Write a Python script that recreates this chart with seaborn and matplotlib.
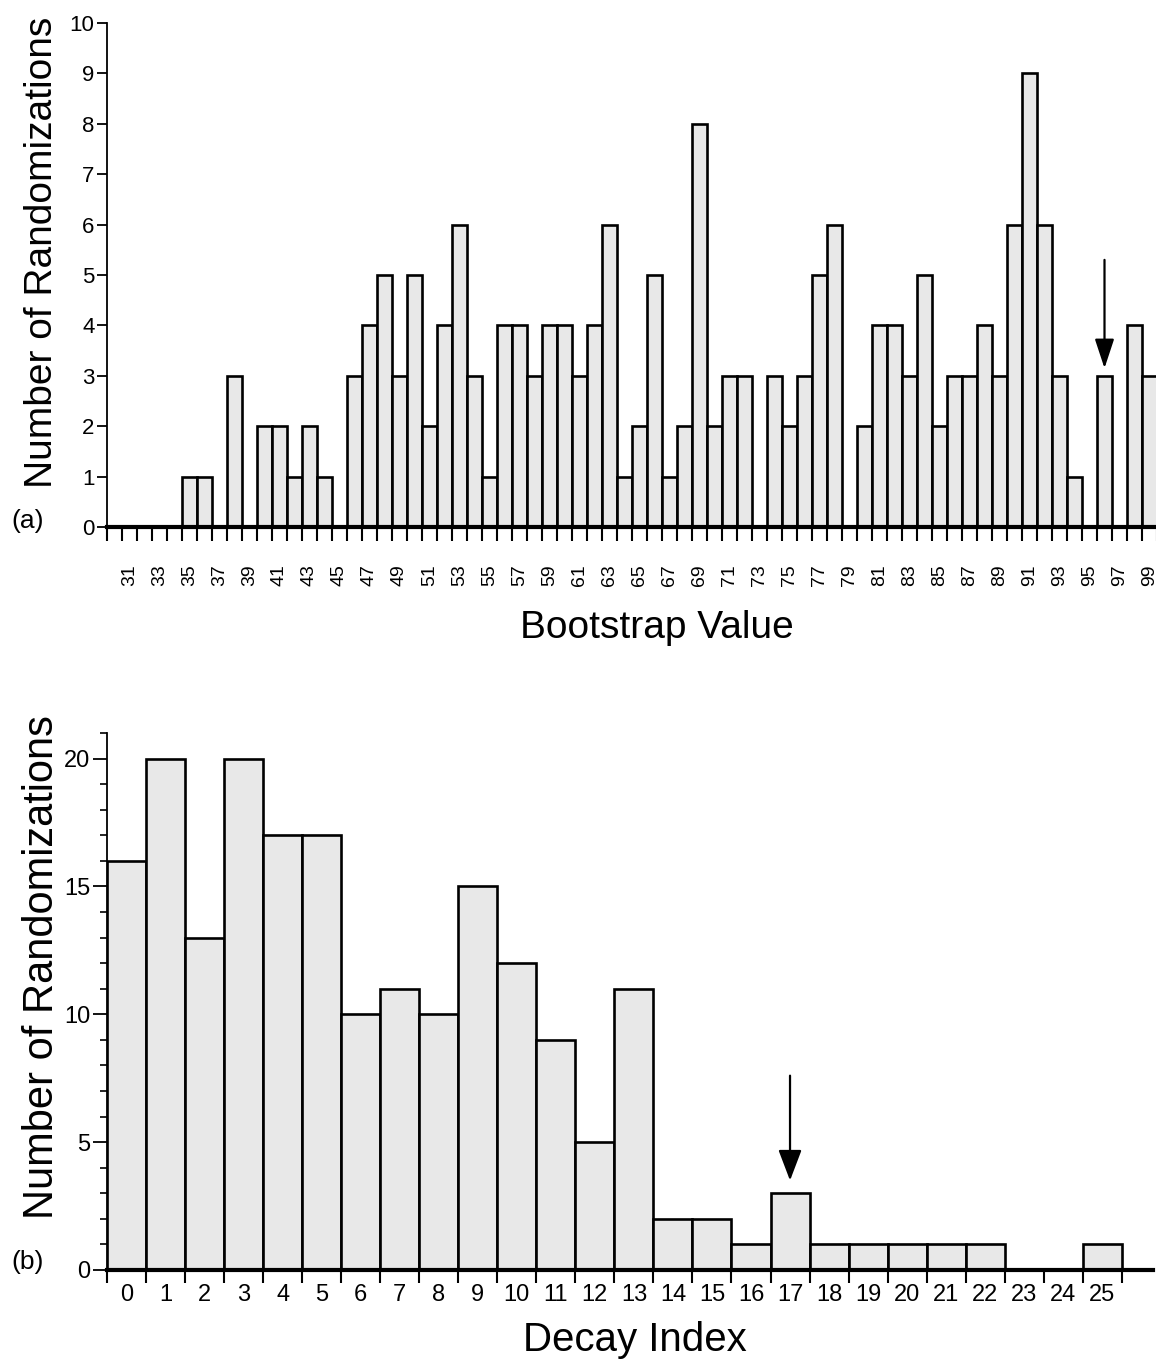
import numpy as np
import pandas as pd
import matplotlib
matplotlib.use("Agg")
import matplotlib.pyplot as plt
from matplotlib.ticker import FixedLocator, NullFormatter
import seaborn as sns

# ---------------- data ----------------
boot_values = list(range(30, 100))
boot_counts = [0, 0, 0, 0, 0, 1, 1, 0, 3, 0,
               2, 2, 1, 2, 1, 0, 3, 4, 5, 3,
               5, 2, 4, 6, 3, 1, 4, 4, 3, 4,
               4, 3, 4, 6, 1, 2, 5, 1, 2, 8,
               2, 3, 3, 0, 3, 2, 3, 5, 6, 0,
               2, 4, 4, 3, 5, 2, 3, 3, 4, 3,
               6, 9, 6, 3, 1, 0, 3, 0, 4, 3]
boot_tick_labels = list(range(31, 100, 2))
boot_arrow_at = 96

decay_values = list(range(0, 26))
decay_counts = [16, 20, 13, 20, 17, 17, 10, 11, 10, 15, 12, 9, 5, 11,
                2, 2, 1, 3, 1, 1, 1, 1, 1, 0, 0, 1]
decay_arrow_at = 17

# ---------------- style ----------------
sns.set_style("ticks")
plt.rcParams["font.family"] = ["Liberation Sans", "DejaVu Sans"]
for key in ["text.color", "axes.labelcolor", "xtick.color", "ytick.color", "axes.edgecolor"]:
    plt.rcParams[key] = "black"
FILL = "#e8e8e8"

W, H = 1156, 1361
fig = plt.figure(figsize=(W / 100, H / 100), dpi=100)

def px_axes(left, top, right, bottom):
    return fig.add_axes([left / W, 1 - bottom / H, (right - left) / W, (bottom - top) / H])

# ---------------- panel (a) ----------------
ax1 = px_axes(107, 23, 1157, 527)
df1 = pd.DataFrame({"value": boot_values, "count": boot_counts})
sns.barplot(data=df1, x="value", y="count", native_scale=True, width=1.0,
            color=FILL, saturation=1, edgecolor="black", linewidth=1.9, ax=ax1)
ax1.set_xlim(29.5, 99.5)
ax1.set_ylim(0, 10)
sns.despine(ax=ax1)
ax1.spines["bottom"].set_linewidth(3.0)
ax1.spines["left"].set_linewidth(1.3)
ax1.set_yticks(range(0, 11))
ax1.tick_params(axis="y", direction="out", length=7, width=1.3, pad=2, labelsize=16)
ax1.xaxis.set_major_locator(FixedLocator(boot_tick_labels))
ax1.set_xticklabels([str(v) for v in boot_tick_labels], rotation=90)
ax1.tick_params(axis="x", which="major", length=0, pad=27, labelsize=14)
ax1.xaxis.set_minor_locator(FixedLocator(np.arange(29.5, 100.5, 1.0)))
ax1.xaxis.set_minor_formatter(NullFormatter())
ax1.tick_params(axis="x", which="minor", direction="out", length=10, width=1.5)
ax1.set_xlabel("Bootstrap Value", fontsize=28)
ax1.xaxis.set_label_coords(0.524, -0.2)
ax1.xaxis.label.set_verticalalignment("center")
ax1.set_ylabel("Number of Randomizations", fontsize=28)
ax1.yaxis.set_label_coords(-0.062, 0.545)
ax1.yaxis.label.set_verticalalignment("center")
ax1.annotate("", xy=(boot_arrow_at, 3.15), xytext=(boot_arrow_at, 5.3),
             arrowprops=dict(arrowstyle="-|>,head_length=1.0,head_width=0.33",
                             mutation_scale=18, color="black", lw=1.6,
                             shrinkA=0, shrinkB=0))
fig.text(28 / W, 1 - 521 / H, "(a)", fontsize=19, ha="center", va="center")

# ---------------- panel (b) ----------------
ax2 = px_axes(107, 733, 1153, 1270)
df2 = pd.DataFrame({"value": decay_values, "count": decay_counts})
sns.barplot(data=df2, x="value", y="count", native_scale=True, width=1.0,
            color=FILL, saturation=1, edgecolor="black", linewidth=1.9, ax=ax2)
ax2.set_xlim(-0.5, 26.3)
ax2.set_ylim(0, 21)
sns.despine(ax=ax2)
ax2.spines["bottom"].set_linewidth(3.0)
ax2.spines["left"].set_linewidth(1.3)
ax2.set_yticks([0, 5, 10, 15, 20])
ax2.yaxis.set_minor_locator(FixedLocator(range(0, 22)))
ax2.tick_params(axis="y", which="major", direction="out", length=10, width=1.3, pad=2, labelsize=17)
ax2.tick_params(axis="y", which="minor", direction="out", length=5, width=1.2)
ax2.xaxis.set_major_locator(FixedLocator(decay_values))
ax2.set_xticklabels([str(v) for v in decay_values])
ax2.tick_params(axis="x", which="major", length=0, pad=10, labelsize=17)
ax2.xaxis.set_minor_locator(FixedLocator(np.arange(-0.5, 26.0, 1.0)))
ax2.xaxis.set_minor_formatter(NullFormatter())
ax2.tick_params(axis="x", which="minor", direction="out", length=9, width=1.5)
ax2.set_xlabel("Decay Index", fontsize=29)
ax2.xaxis.set_label_coords(0.505, -0.13)
ax2.xaxis.label.set_verticalalignment("center")
ax2.set_ylabel("Number of Randomizations", fontsize=30)
ax2.yaxis.set_label_coords(-0.062, 0.565)
ax2.yaxis.label.set_verticalalignment("center")
ax2.annotate("", xy=(decay_arrow_at, 3.5), xytext=(decay_arrow_at, 7.6),
             arrowprops=dict(arrowstyle="-|>,head_length=1.0,head_width=0.38",
                             mutation_scale=19, color="black", lw=1.6,
                             shrinkA=0, shrinkB=0))
fig.text(28 / W, 1 - 1262 / H, "(b)", fontsize=19, ha="center", va="center")

fig.savefig("out.png", dpi=100)
